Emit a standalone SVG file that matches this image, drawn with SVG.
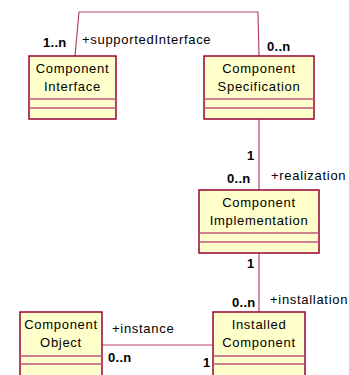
<svg xmlns="http://www.w3.org/2000/svg" width="349" height="375" viewBox="0 0 349 375">
<style>
.box{fill:#FFFFCC;stroke:#990033;stroke-width:1.5}
.div{stroke:#C0577A;stroke-width:1.5}
.name{font-family:"Liberation Sans",Arial,sans-serif;font-size:13px;letter-spacing:0.7px;text-anchor:middle;fill:#000}
.role{font-family:"Liberation Sans",Arial,sans-serif;font-size:13px;letter-spacing:0.7px;fill:#000}
.mult{font-family:"Liberation Sans",Arial,sans-serif;font-size:13px;font-weight:bold;letter-spacing:0.3px;fill:#000}
.conn{fill:none;stroke:#B8456E;stroke-width:1.2}
</style>
<rect width="349" height="375" fill="#fff"/>
<g id="connectors">
<polyline class="conn" points="75,56 79,12 258,12 259,56"/>
<line class="conn" x1="259" y1="119" x2="259" y2="190"/>
<line class="conn" x1="259" y1="253" x2="259" y2="312"/>
<line class="conn" x1="102" y1="345" x2="213" y2="345"/>
<text class="mult" x="43" y="47">1..n</text>
<text class="role" x="82" y="44">+supportedInterface</text>
<text class="mult" x="267" y="51">0..n</text>
<text class="mult" x="247" y="160">1</text>
<text class="mult" x="227" y="183">0..n</text>
<text class="role" x="271" y="180">+realization</text>
<text class="mult" x="247" y="268">1</text>
<text class="mult" x="232" y="307">0..n</text>
<text class="role" x="270" y="304">+installation</text>
<text class="role" x="112" y="333">+instance</text>
<text class="mult" x="108" y="362">0..n</text>
<text class="mult" x="203" y="367">1</text>
</g>
<g id="ComponentInterface">
<rect class="box" x="29" y="56" width="87" height="63"/>
<line class="div" x1="29" y1="99" x2="116" y2="99"/>
<line class="div" x1="29" y1="108" x2="116" y2="108"/>
<text class="name" x="72.5" y="73">Component</text>
<text class="name" x="72.5" y="91">Interface</text>
</g>
<g id="ComponentSpecification">
<rect class="box" x="204" y="56" width="110" height="63"/>
<line class="div" x1="204" y1="99" x2="314" y2="99"/>
<line class="div" x1="204" y1="108" x2="314" y2="108"/>
<text class="name" x="259" y="73">Component</text>
<text class="name" x="259" y="91">Specification</text>
</g>
<g id="ComponentImplementation">
<rect class="box" x="199" y="190" width="120" height="63"/>
<line class="div" x1="199" y1="233" x2="319" y2="233"/>
<line class="div" x1="199" y1="242" x2="319" y2="242"/>
<text class="name" x="259" y="207">Component</text>
<text class="name" x="259" y="225">Implementation</text>
</g>
<g id="InstalledComponent">
<rect class="box" x="213" y="312" width="92" height="70"/>
<line class="div" x1="213" y1="356" x2="305" y2="356"/>
<line class="div" x1="213" y1="364" x2="305" y2="364"/>
<text class="name" x="259" y="329">Installed</text>
<text class="name" x="259" y="347">Component</text>
</g>
<g id="ComponentObject">
<rect class="box" x="20" y="312" width="82" height="70"/>
<line class="div" x1="20" y1="356" x2="102" y2="356"/>
<line class="div" x1="20" y1="364" x2="102" y2="364"/>
<text class="name" x="61" y="329">Component</text>
<text class="name" x="61" y="347">Object</text>
</g>
</svg>
